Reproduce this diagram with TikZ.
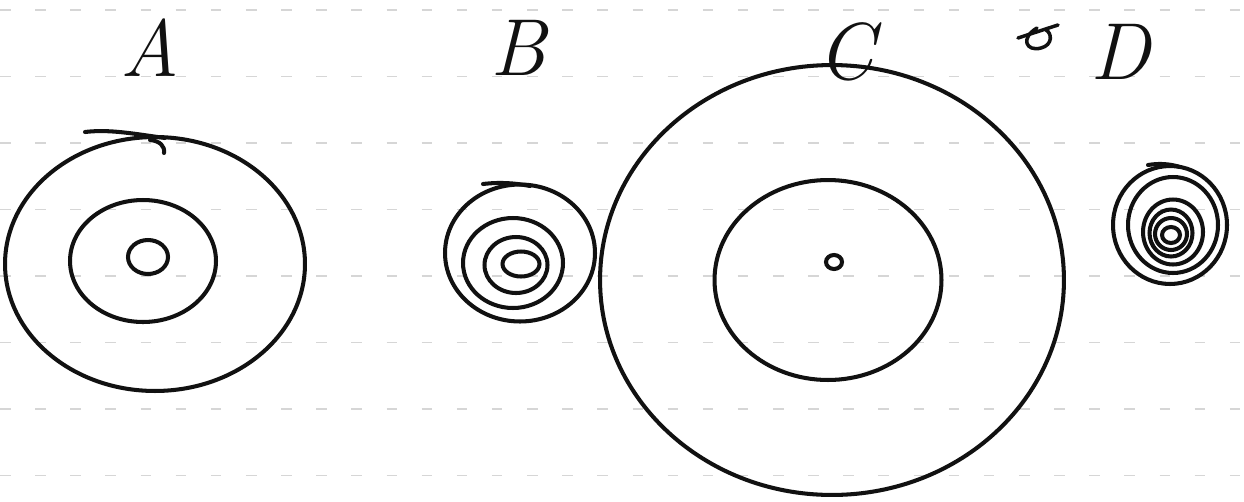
\documentclass[tikz,border=0pt]{standalone}
\usetikzlibrary{shapes.geometric}
\definecolor{ink}{HTML}{111111}
\definecolor{rule}{HTML}{D6D6D6}
\tikzset{
  ring/.style={ellipse,draw=ink,line width=2.3pt,inner sep=0pt,outer sep=0pt},
  tail/.style={draw=ink,line width=2.3pt,line cap=round},
  letter/.style={font=\fontsize{46}{46}\selectfont\itshape,text=ink,inner sep=0pt},
  ruling/.style={draw=rule,line width=.6pt,dash pattern=on 6pt off 14pt},
}
\begin{document}
\begin{tikzpicture}[x=0.02cm,y=-0.02cm]
  \useasboundingbox[fill=white] (0,0) rectangle (1244,501);
  % faint ruled lines of the paper
  \foreach \ry in {10,76.5,143,209.5,276,342.5,409,475.5}
    \draw[ruling] (0,\ry) -- (1244,\ry);
  % labels
  \node[letter] (labA) at (150,48) {A};
  \node[letter] (labB) at (518,48) {B};
  \node[letter] (labC) at (846,52) {C};
  \node[letter] (labD) at (1120,52) {D};
  \draw[tail,line width=2pt] (1018,38) -- (1058,25);
  \draw[tail,line width=2pt] (1037,28) .. controls (1020,38) and (1026,52) .. (1041,48) .. controls (1053,45) and (1052,33) .. (1046,30);
  % A
  \node[ring,minimum width=6cm,minimum height=5.08cm] (aout) at (155,264) {};
  \node[ring,minimum width=2.92cm,minimum height=2.44cm] (amid) at (143,261) {};
  \node[ring,minimum width=.8cm,minimum height=.68cm] (ain) at (148,257) {};
  \draw[tail] (85,132) .. controls (110,129) and (135,134) .. (165,138);
  \draw[tail] (150,140) .. controls (160,141) and (165,146) .. (164,153);
  % B
  \node[ring,minimum width=3cm,minimum height=2.74cm] (bout) at (520,253) {};
  \node[ring,minimum width=2cm,minimum height=1.8cm] (bmid) at (513,263) {};
  \node[ring,minimum width=1.26cm,minimum height=1.12cm] (bsub) at (516,265) {};
  \node[ring,minimum width=.74cm,minimum height=.5cm] (bin) at (521,264) {};
  \draw[tail] (483,184) .. controls (500,182) and (515,183) .. (530,186);
  % C
  \node[ring,minimum width=9.28cm,minimum height=8.6cm] (cout) at (832,280) {};
  \node[ring,minimum width=4.54cm,minimum height=4cm] (cmid) at (828,280) {};
  \node[ring,minimum width=.32cm,minimum height=.28cm] (cin) at (834,262) {};
  % D
  \node[ring,minimum width=2.28cm,minimum height=2.36cm] (d1) at (1170,225) {};
  \node[ring,minimum width=1.8cm,minimum height=1.92cm] (d2) at (1173,225) {};
  \node[ring,minimum width=1.2cm,minimum height=1.3cm] (d3) at (1173,232) {};
  \node[ring,minimum width=.86cm,minimum height=.94cm] (d4) at (1171,233) {};
  \node[ring,minimum width=.64cm,minimum height=.64cm] (d5) at (1171,234) {};
  \node[ring,minimum width=.36cm,minimum height=.32cm] (d6) at (1171,235) {};
  \draw[tail] (1148,165) .. controls (1160,163) and (1170,164) .. (1180,167);
\end{tikzpicture}
\end{document}
